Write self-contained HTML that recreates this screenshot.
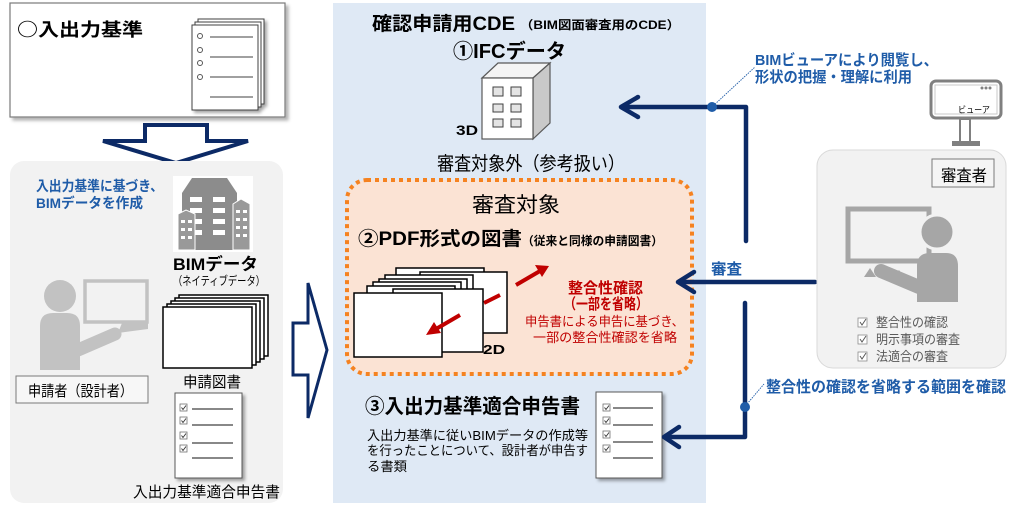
<!DOCTYPE html>
<html><head><meta charset="utf-8"><style>
html,body{margin:0;padding:0;background:#fff;}
svg{display:block;}
text{font-family:"Liberation Sans","Noto Sans CJK JP",sans-serif;}
</style></head><body>
<svg width="1024" height="511" viewBox="0 0 1024 511" xmlns="http://www.w3.org/2000/svg">
<defs>
<filter id="sh" x="-20%" y="-20%" width="140%" height="140%"><feDropShadow dx="2.5" dy="2.5" stdDeviation="1.5" flood-color="#000" flood-opacity="0.35"/></filter>
<filter id="sh2" x="-10%" y="-10%" width="120%" height="130%"><feDropShadow dx="3" dy="3" stdDeviation="1.5" flood-color="#000" flood-opacity="0.3"/></filter>
</defs>
<rect width="1024" height="511" fill="#fff"/>

<!-- top-left box -->
<rect x="10" y="3" width="275" height="114" fill="#fff" stroke="#7a7a7a" stroke-width="1.2" filter="url(#sh2)"/>
<text x="17" y="36" font-size="18" font-weight="bold" textLength="126" lengthAdjust="spacingAndGlyphs"><tspan style="font-family:'Noto Sans CJK JP',sans-serif">○</tspan>入出力基準</text>
<g filter="url(#sh)">
<rect x="198" y="19" width="66" height="85" fill="#fff" stroke="#404040" stroke-width="1"/>
<rect x="195" y="22" width="66" height="85" fill="#fff" stroke="#404040" stroke-width="1"/>
<rect x="192" y="25" width="66" height="85" fill="#fff" stroke="#404040" stroke-width="1"/>
</g>
<g fill="none" stroke="#555" stroke-width="1">
<circle cx="200" cy="36" r="2.5"/><circle cx="200" cy="50" r="2.5"/><circle cx="200" cy="63" r="2.5"/><circle cx="200" cy="77" r="2.5"/>
</g>
<g stroke="#808080" stroke-width="1.5">
<line x1="210" y1="37" x2="253" y2="37"/><line x1="210" y1="57" x2="253" y2="57"/><line x1="210" y1="77" x2="253" y2="77"/><line x1="210" y1="97" x2="253" y2="97"/>
</g>

<!-- down arrow -->
<path d="M145,125 H207 V141 H248 L176,163 L103,141 H145 Z" fill="#fff" stroke="#0c2a66" stroke-width="4"/>

<!-- left panel -->
<rect x="10" y="161" width="273" height="342" rx="14" fill="#f2f2f2"/>
<text x="36" y="191" font-size="14" font-weight="bold" fill="#1f5ca8" textLength="127" lengthAdjust="spacingAndGlyphs">入出力基準に基づき、</text>
<text x="36" y="208" font-size="14" font-weight="bold" fill="#1f5ca8" textLength="107" lengthAdjust="spacingAndGlyphs">BIMデータを作成</text>

<!-- building icon -->
<rect x="173" y="176" width="80" height="76" fill="#fff"/>
<polygon points="192,178 227,178 237,193 237,250 182,250 182,193" fill="#8c8c8c"/>
<g fill="#fff">
<rect x="190" y="197" width="12" height="5"/><rect x="213" y="197" width="12" height="5"/>
<rect x="190" y="208" width="12" height="5"/><rect x="213" y="208" width="12" height="5"/>
<rect x="190" y="219" width="12" height="5"/><rect x="213" y="219" width="12" height="5"/>
<rect x="190" y="230" width="12" height="5"/><rect x="213" y="230" width="12" height="5"/>
</g>
<polygon points="178,214 186,210 195,214 195,250 178,250" fill="#999" stroke="#fff" stroke-width="1"/>
<polygon points="233,204 241,199 250,204 250,250 233,250" fill="#999" stroke="#fff" stroke-width="1"/>
<g fill="#fff">
<rect x="181" y="220" width="4" height="3"/><rect x="188" y="220" width="4" height="3"/>
<rect x="181" y="228" width="4" height="3"/><rect x="188" y="228" width="4" height="3"/>
<rect x="181" y="236" width="4" height="3"/><rect x="188" y="236" width="4" height="3"/>
<rect x="236" y="210" width="4" height="3"/><rect x="243" y="210" width="4" height="3"/>
<rect x="236" y="218" width="4" height="3"/><rect x="243" y="218" width="4" height="3"/>
<rect x="236" y="226" width="4" height="3"/><rect x="243" y="226" width="4" height="3"/>
<rect x="236" y="234" width="4" height="3"/><rect x="243" y="234" width="4" height="3"/>
</g>
<text x="173" y="270" font-size="17" font-weight="bold" textLength="85" lengthAdjust="spacingAndGlyphs">BIMデータ</text>
<text x="173" y="285" font-size="12" textLength="92" lengthAdjust="spacingAndGlyphs">（ネイティブデータ）</text>

<!-- left person -->
<rect x="85" y="281" width="62" height="41" fill="none" stroke="#c2c2c2" stroke-width="3.5"/>
<polygon points="122,323 148,323 148,329 118,333" fill="#c2c2c2"/>
<circle cx="60" cy="296" r="16" fill="#c2c2c2"/>
<path d="M40,370 L40,326 Q40,313 53,313 L67,313 Q80,313 80,326 L80,370 Z" fill="#c2c2c2"/>
<line x1="78" y1="350" x2="115" y2="334" stroke="#c2c2c2" stroke-width="13" stroke-linecap="round"/>
<rect x="16" y="376" width="132" height="27" fill="#f7f7f7" stroke="#7a7a7a" stroke-width="1"/>
<text x="28" y="396" font-size="15" textLength="105" lengthAdjust="spacingAndGlyphs">申請者（設計者）</text>

<!-- left drawings stack -->
<g fill="#fff" stroke="#000" stroke-width="1.5">
<rect x="179" y="295" width="89" height="61"/>
<rect x="175" y="298" width="89" height="61"/>
<rect x="171" y="301" width="89" height="61"/>
<rect x="167" y="304" width="89" height="61"/>
<rect x="163" y="307" width="89" height="61"/>
</g>
<text x="183" y="387" font-size="15" textLength="58" lengthAdjust="spacingAndGlyphs">申請図書</text>

<!-- left checklist -->
<rect x="175" y="393" width="67" height="85" fill="#fff" stroke="#595959" stroke-width="1" filter="url(#sh)"/>
<g fill="#fff" stroke="#707070" stroke-width="0.8">
<rect x="180" y="404" width="7" height="7"/><rect x="180" y="417" width="7" height="7"/><rect x="180" y="432" width="7" height="7"/><rect x="180" y="445" width="7" height="7"/>
</g>
<g fill="none" stroke="#333" stroke-width="0.9">
<path d="M181.5,407.5 l1.5,2 l3,-4"/><path d="M181.5,420.5 l1.5,2 l3,-4"/><path d="M181.5,435.5 l1.5,2 l3,-4"/><path d="M181.5,448.5 l1.5,2 l3,-4"/>
</g>
<g stroke="#404040" stroke-width="1.2">
<line x1="192" y1="409" x2="233" y2="409"/><line x1="192" y1="425" x2="233" y2="425"/><line x1="192" y1="443" x2="233" y2="443"/><line x1="192" y1="458" x2="233" y2="458"/>
</g>
<text x="133" y="497" font-size="15" textLength="147" lengthAdjust="spacingAndGlyphs">入出力基準適合申告書</text>

<!-- right hollow arrow -->
<path d="M293,323 H308 V283 L327,350 L308,418 V375 H293 Z" fill="#fff" stroke="#0c2a66" stroke-width="3"/>

<!-- center panel -->
<rect x="333" y="3" width="373" height="500" fill="#dfe9f5"/>
<text x="372" y="30" font-size="19" font-weight="bold" textLength="143" lengthAdjust="spacingAndGlyphs">確認申請用CDE</text>
<text x="520" y="29" font-size="12" font-weight="bold" textLength="160" lengthAdjust="spacingAndGlyphs">（BIM図面審査用のCDE）</text>
<text x="453" y="58" font-size="20" font-weight="bold" textLength="113" lengthAdjust="spacingAndGlyphs">①IFCデータ</text>

<!-- cube -->
<polygon points="482,78 498,63 550,63 533,78" fill="#f4f4f4" stroke="#595959" stroke-width="1.2"/>
<polygon points="533,78 550,63 550,123 533,139" fill="#c9c9c9" stroke="#595959" stroke-width="1.2"/>
<rect x="482" y="78" width="51" height="61" fill="#fff" stroke="#595959" stroke-width="1.2"/>
<g fill="#e4e4e4" stroke="#404040" stroke-width="1">
<rect x="493" y="87" width="10" height="9"/><rect x="511" y="87" width="10" height="9"/>
<rect x="493" y="104" width="10" height="8"/><rect x="511" y="104" width="10" height="8"/>
<rect x="493" y="119" width="10" height="8"/><rect x="511" y="119" width="10" height="8"/>
</g>
<text x="456" y="135" font-size="14" font-weight="bold" textLength="22" lengthAdjust="spacingAndGlyphs">3D</text>
<text x="437" y="170" font-size="19" textLength="188" lengthAdjust="spacingAndGlyphs">審査対象外（参考扱い）</text>

<!-- orange dotted box -->
<rect x="347" y="180" width="345" height="194" rx="20" fill="#fbe3d4" stroke="#f58220" stroke-width="4" stroke-dasharray="4 4"/>
<text x="472" y="212" font-size="21" textLength="88" lengthAdjust="spacingAndGlyphs">審査対象</text>
<text x="358" y="245" font-size="19" font-weight="bold" textLength="164" lengthAdjust="spacingAndGlyphs">②PDF形式の図書</text>
<text x="522" y="245" font-size="12" font-weight="bold" textLength="141" lengthAdjust="spacingAndGlyphs">（従来と同様の申請図書）</text>

<!-- sheets -->
<g fill="#fff" stroke="#000" stroke-width="1.5">
<rect x="396" y="268" width="88" height="62"/>
<rect x="420" y="272" width="87" height="61"/>
<rect x="385" y="275" width="88" height="62"/>
<rect x="379" y="279" width="88" height="62"/>
<rect x="373" y="282" width="88" height="62"/>
<rect x="367" y="286" width="88" height="62"/>
</g>
<line x1="500" y1="295" x2="484" y2="303" stroke="#c00000" stroke-width="4"/>
<rect x="393" y="289" width="90" height="63" fill="#fff" stroke="#000" stroke-width="1.5"/>
<rect x="354" y="293" width="88" height="64" fill="#fff" stroke="#000" stroke-width="1.5"/>
<line x1="460" y1="315" x2="436" y2="329" stroke="#c00000" stroke-width="4"/>
<polygon points="426,335 434,322 441,333" fill="#c00000"/>
<line x1="516" y1="285" x2="540" y2="271" stroke="#c00000" stroke-width="4"/>
<polygon points="549,266 535,265 542,277" fill="#c00000"/>
<text x="483" y="354" font-size="13" font-weight="bold" textLength="22" lengthAdjust="spacingAndGlyphs">2D</text>

<text x="568" y="293" font-size="15" font-weight="bold" fill="#c00000" textLength="75" lengthAdjust="spacingAndGlyphs">整合性確認</text>
<text x="564" y="309" font-size="15" font-weight="bold" fill="#c00000" textLength="84" lengthAdjust="spacingAndGlyphs">（一部を省略）</text>
<text x="525" y="326" font-size="13" fill="#c00000" textLength="159" lengthAdjust="spacingAndGlyphs">申告書による申告に基づき、</text>
<text x="533" y="342" font-size="13" fill="#c00000" textLength="144" lengthAdjust="spacingAndGlyphs">一部の整合性確認を省略</text>

<text x="365" y="413" font-size="20" font-weight="bold" textLength="215" lengthAdjust="spacingAndGlyphs">③入出力基準適合申告書</text>
<text x="367" y="440" font-size="13" textLength="221" lengthAdjust="spacingAndGlyphs">入出力基準に従いBIMデータの作成等</text>
<text x="367" y="455" font-size="13" textLength="221" lengthAdjust="spacingAndGlyphs">を行ったことについて、設計者が申告す</text>
<text x="367" y="471" font-size="13" textLength="40" lengthAdjust="spacingAndGlyphs">る書類</text>

<!-- center checklist -->
<rect x="596" y="392" width="66" height="86" fill="#fff" stroke="#595959" stroke-width="1" filter="url(#sh)"/>
<g fill="#fff" stroke="#707070" stroke-width="0.8">
<rect x="603" y="404" width="7" height="7"/><rect x="603" y="417" width="7" height="7"/><rect x="603" y="431" width="7" height="7"/><rect x="603" y="445" width="7" height="7"/>
</g>
<g fill="none" stroke="#333" stroke-width="0.9">
<path d="M604.5,407.5 l1.5,2 l3,-4"/><path d="M604.5,420.5 l1.5,2 l3,-4"/><path d="M604.5,434.5 l1.5,2 l3,-4"/><path d="M604.5,448.5 l1.5,2 l3,-4"/>
</g>
<g stroke="#404040" stroke-width="1.2">
<line x1="613" y1="408" x2="653" y2="408"/><line x1="613" y1="425" x2="653" y2="425"/><line x1="613" y1="442" x2="653" y2="442"/><line x1="613" y1="458" x2="653" y2="458"/>
</g>

<!-- connectors -->
<g stroke="#0c2a66" stroke-width="4.5" fill="none" stroke-linejoin="round" stroke-linecap="round">
<path d="M746,241 V107 H623"/>
<path d="M638,97 L621,107 L638,117"/>
<path d="M815,282 H680"/>
<path d="M694,272 L678,282 L694,292"/>
<path d="M745,303 V437 H666"/>
<path d="M679,427 L664,437 L679,447"/>
</g>
<g stroke="#1f5ca8" stroke-width="0.9" stroke-dasharray="1.5 1">
<line x1="713" y1="106" x2="755" y2="67"/>
<line x1="747" y1="404" x2="764" y2="384"/>
</g>
<circle cx="712" cy="107" r="5" fill="#1f5ca8"/>
<circle cx="745" cy="407" r="5" fill="#1f5ca8"/>

<text x="755" y="65" font-size="15" font-weight="bold" fill="#1f5ca8" textLength="183" lengthAdjust="spacingAndGlyphs">BIMビューアにより閲覧し、</text>
<text x="755" y="82" font-size="15" font-weight="bold" fill="#1f5ca8" textLength="157" lengthAdjust="spacingAndGlyphs">形状の把握・理解に利用</text>
<text x="711" y="274" font-size="15" font-weight="bold" fill="#1f5ca8" textLength="31" lengthAdjust="spacingAndGlyphs">審査</text>
<text x="766" y="392" font-size="15.5" font-weight="bold" fill="#1f5ca8" textLength="240" lengthAdjust="spacingAndGlyphs">整合性の確認を省略する範囲を確認</text>

<!-- viewer -->
<rect x="931" y="81" width="70" height="37" rx="5" fill="#fff" stroke="#808080" stroke-width="3"/>
<rect x="935" y="85" width="62" height="29" fill="none" stroke="#c8c8c8" stroke-width="1"/>
<rect x="960" y="119" width="10" height="23" fill="#fff" stroke="#808080" stroke-width="2"/>
<rect x="952" y="141" width="28" height="5" fill="#808080"/>
<circle cx="982" cy="88" r="1.5" fill="#808080"/><circle cx="986" cy="88" r="1.5" fill="#808080"/><circle cx="990" cy="88" r="1.5" fill="#808080"/>
<text x="958" y="113" font-size="9" textLength="32" lengthAdjust="spacingAndGlyphs">ビューア</text>

<!-- reviewer panel -->
<rect x="817" y="150" width="189" height="218" rx="16" fill="#f2f2f2" stroke="#d9d9d9" stroke-width="1"/>
<rect x="932" y="159" width="62" height="28" fill="#f5f5f5" stroke="#7a7a7a" stroke-width="1"/>
<text x="941" y="181" font-size="16" textLength="46" lengthAdjust="spacingAndGlyphs">審査者</text>
<rect x="848" y="209" width="81" height="52" fill="none" stroke="#a6a6a6" stroke-width="5"/>
<polygon points="864,277 870,268 876,277" fill="#a6a6a6"/>
<polygon points="894,277 899,270 904,277" fill="#a6a6a6"/>
<circle cx="937" cy="232" r="17" fill="#a6a6a6" stroke="#f2f2f2" stroke-width="3"/>
<path d="M917,302 L917,266 Q917,253 930,253 L946,253 Q958,253 958,266 L958,302 Z" fill="#a6a6a6"/>
<line x1="881" y1="271" x2="919" y2="287" stroke="#a6a6a6" stroke-width="14" stroke-linecap="round"/>

<g fill="#fff" stroke="#8c8c8c" stroke-width="0.8">
<rect x="858" y="318" width="9" height="9"/><rect x="858" y="335" width="9" height="9"/><rect x="858" y="352" width="9" height="9"/>
</g>
<g fill="none" stroke="#595959" stroke-width="1">
<path d="M860,322 l2,3 l4,-6"/><path d="M860,339 l2,3 l4,-6"/><path d="M860,356 l2,3 l4,-6"/>
</g>
<text x="876" y="327" font-size="13" fill="#595959" textLength="72" lengthAdjust="spacingAndGlyphs">整合性の確認</text>
<text x="876" y="344" font-size="13" fill="#595959" textLength="84" lengthAdjust="spacingAndGlyphs">明示事項の審査</text>
<text x="876" y="361" font-size="13" fill="#595959" textLength="72" lengthAdjust="spacingAndGlyphs">法適合の審査</text>
</svg>
</body></html>
